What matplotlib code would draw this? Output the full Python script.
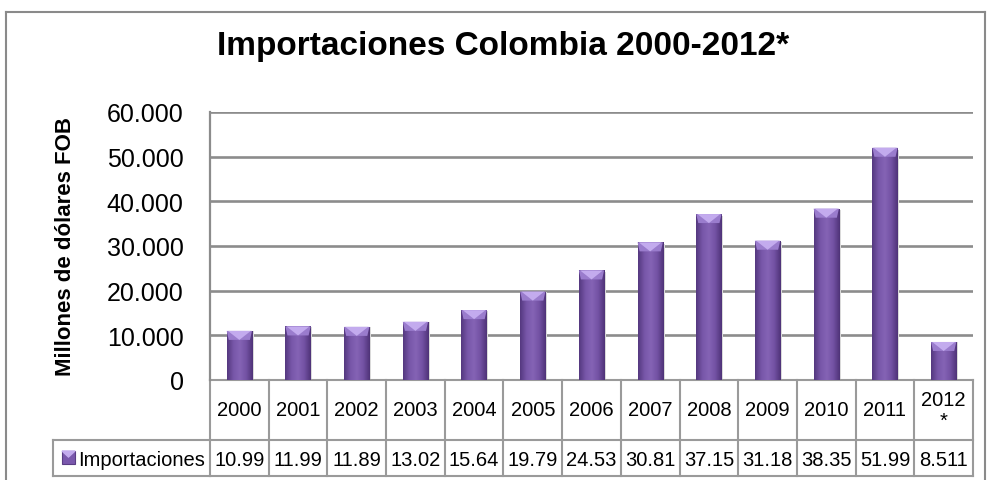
import matplotlib
matplotlib.use("Agg")
import matplotlib.pyplot as plt
import numpy as np
from matplotlib.patches import Rectangle, Polygon
from matplotlib.lines import Line2D
from matplotlib.transforms import blended_transform_factory

# ---- data ----
years = ['2000', '2001', '2002', '2003', '2004', '2005', '2006', '2007',
         '2008', '2009', '2010', '2011', '2012\n*']
values = [10990, 11990, 11890, 13020, 15640, 19790, 24530, 30810,
          37150, 31180, 38350, 51990, 8511]
table_labels = ['10.99', '11.99', '11.89', '13.02', '15.64', '19.79', '24.53',
                '30.81', '37.15', '31.18', '38.35', '51.99', '8.511']
yticks = [0, 10000, 20000, 30000, 40000, 50000, 60000]
series_name = 'Importaciones'
title = 'Importaciones Colombia 2000-2012*'
ylabel = 'Millones de dólares FOB'

plt.rcParams['font.family'] = ['Liberation Sans', 'DejaVu Sans']

W, H = 989, 481
fig = plt.figure(figsize=(W / 100, H / 100), dpi=100)
fig.patch.set_facecolor('white')

L, R, T, B = 210, 973, 113, 381
ax = fig.add_axes([L / W, 1 - B / H, (R - L) / W, (B - T) / H])
ax.set_xlim(-0.5, len(years) - 0.5)
ax.set_ylim(0, 60000)

grid_c = '#8c8c8c'
for s in ['top', 'right', 'bottom']:
    ax.spines[s].set_visible(False)
ax.spines['left'].set_color(grid_c)
ax.spines['left'].set_linewidth(1.6)
ax.set_yticks(yticks)
ax.set_yticklabels([f"{v:,.0f}".replace(',', '.') for v in yticks], fontsize=18)
ax.tick_params(axis='y', length=0, pad=19)
ax.set_xticks([])
for v in yticks:
    ax.axhline(v, color=grid_c, lw=1.9, zorder=1)

ax.set_ylabel(ylabel, fontsize=16, fontweight='bold', labelpad=22)

# ---- bars with gradient + bevel ----
x = np.arange(len(years))
bw = 0.43
bars = ax.bar(x, values, width=bw, color='#6f4fa0', zorder=3, edgecolor='none')
stops = np.array([[0.33, 0.22, 0.50], [0.47, 0.34, 0.66], [0.52, 0.39, 0.71],
                  [0.45, 0.32, 0.64], [0.31, 0.20, 0.47]])
pos = np.linspace(0, 1, len(stops))
t = np.linspace(0, 1, 64)
grad = np.stack([np.interp(t, pos, stops[:, k]) for k in range(3)], axis=-1)[None, :, :]
bev = 9 * 60000 / (B - T)
for xi, b in zip(x, bars):
    h = b.get_height()
    x0, x1 = b.get_x(), b.get_x() + b.get_width()
    im = ax.imshow(grad, extent=[x0, x1, 0, h], aspect='auto', zorder=4,
                   interpolation='bilinear')
    im.set_clip_path(b)
    ax.add_patch(Rectangle((x1, 0), 0.03, h * 0.99, color='#dadada', zorder=2, lw=0))
    bb = min(bev, h)
    ax.add_patch(Polygon([[x0, h], [x1, h], [x1 - 0.035, h - bb], [x0 + 0.035, h - bb]],
                         closed=True, color='#9a7ccd', zorder=5, lw=0))
    ax.add_patch(Polygon([[x0 + 0.02, h], [x1 - 0.02, h], [xi, h - bb]],
                         closed=True, color='#c3abee', zorder=6, lw=0))
ax.set_xlim(-0.5, len(years) - 0.5)
ax.set_ylim(0, 60000)

# ---- data table ----
tc = '#9a9a9a'
trans = blended_transform_factory(ax.transData, ax.transAxes)
ph = B - T
def ya(py):
    return (B - py) / ph
r0, r1, r2 = ya(381), ya(441), ya(477)
n = len(years)
for yy in [r0, r1, r2]:
    ax.add_line(Line2D([-0.5, n - 0.5], [yy, yy], transform=trans, color=tc,
                       lw=1.5, clip_on=False))
for i in range(n + 1):
    ax.add_line(Line2D([i - 0.5, i - 0.5], [r0, r2], transform=trans, color=tc,
                       lw=1.5, clip_on=False))
for i, (yr, lab) in enumerate(zip(years, table_labels)):
    ax.text(i, (r0 + r1) / 2, yr, transform=trans, ha='center', va='center',
            fontsize=14.5, linespacing=1.1, clip_on=False)
    ax.text(i, (r1 + r2) / 2 - 0.005, lab, transform=trans, ha='center', va='center',
            fontsize=14.5, clip_on=False)

# legend cell
def xa(px):
    return (px - L) / (R - L)
tA = ax.transAxes
lx = xa(53)
for seg in [([lx, 0], [r1, r1]), ([lx, 0], [r2, r2]), ([lx, lx], [r1, r2])]:
    ax.add_line(Line2D(seg[0], seg[1], transform=tA, color=tc, lw=1.5, clip_on=False))
ax.add_patch(Rectangle((xa(62), ya(465)), xa(75) - xa(62), ya(452) - ya(465),
                       transform=tA, facecolor='#7a58ad', edgecolor='#5a3d85',
                       lw=0.8, clip_on=False, zorder=5))
ax.add_patch(Polygon([[xa(62), ya(452)], [xa(75), ya(452)], [xa(68.5), ya(458)]],
                     closed=True, transform=tA, color='#c3abee', clip_on=False, zorder=6))
ax.text(xa(78), (r1 + r2) / 2 - 0.005, series_name, transform=tA, ha='left',
        va='center', fontsize=14.5, clip_on=False)

# ---- title ----
fig.text(503 / W, 1 - 46 / H, title, ha='center', va='center', fontsize=24,
         fontweight='bold')

# ---- chart frame ----
fc = '#8a8a8a'
ft = 1 - 13 / H
fig.add_artist(Line2D([6 / W, 6 / W], [0, ft], transform=fig.transFigure,
                      color=fc, lw=1.5))
fig.add_artist(Line2D([6 / W, 985 / W], [ft, ft],
                      transform=fig.transFigure, color=fc, lw=1.5))
fig.add_artist(Line2D([985 / W, 985 / W], [0, ft], transform=fig.transFigure,
                      color=fc, lw=1.5))

fig.savefig('out.png', dpi=100)
